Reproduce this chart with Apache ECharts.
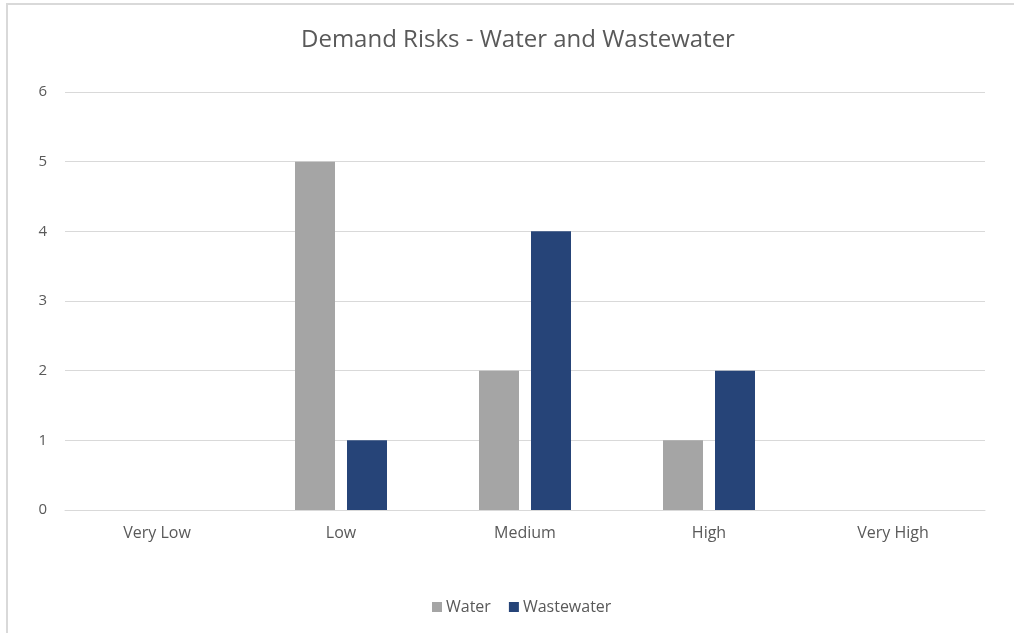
<!DOCTYPE html>
<html>
<head>
<meta charset="utf-8">
<script src="https://cdn.jsdelivr.net/npm/echarts@6/dist/echarts.min.js"></script>
<style>
  html, body { margin: 0; padding: 0; background: #fff; overflow: hidden; }
  #chart { width: 1014px; height: 633px; }
</style>
</head>
<body>
<div id="chart"></div>
<script>
// Risk level buckets and counts per service
const categories = ['Very Low', 'Low', 'Medium', 'High', 'Very High'];
const waterCounts = [0, 5, 2, 1, 0];
const wastewaterCounts = [0, 1, 4, 2, 0];
const titleText = 'Demand Risks - Water and Wastewater';

const FONT = '"Open Sans", "Noto Sans", sans-serif';
const TEXT = '#595959';
const GRID = '#d9d9d9';

const chart = echarts.init(document.getElementById('chart'));
chart.setOption({
  animation: false,
  backgroundColor: '#fff',
  textStyle: { fontFamily: FONT },
  title: {
    text: titleText,
    left: 296,
    top: 23,
    textStyle: { fontFamily: FONT, fontSize: 24, fontWeight: 'normal', color: TEXT }
  },
  graphic: [{
    type: 'rect',
    shape: { x: 7, y: 4, width: 1100, height: 700 },
    style: { fill: 'none', stroke: GRID, lineWidth: 2 },
    silent: true
  }],
  legend: {
    bottom: 13,
    left: 427,
    itemWidth: 10,
    itemHeight: 10,
    itemGap: 18,
    icon: 'rect',
    textStyle: { fontFamily: FONT, fontSize: 16, color: TEXT, padding: [0, 0, 0, -1] },
    data: ['Water', 'Wastewater']
  },
  grid: { left: 65, right: 29, top: 92, bottom: 123, containLabel: false },
  xAxis: {
    type: 'category',
    data: categories,
    axisLine: { lineStyle: { color: GRID, width: 1 } },
    axisTick: { show: false },
    axisLabel: { color: TEXT, fontSize: 16, margin: 15, fontFamily: FONT }
  },
  yAxis: {
    type: 'value',
    min: 0,
    max: 6,
    interval: 1,
    axisLine: { show: false },
    axisTick: { show: false },
    splitLine: { lineStyle: { color: GRID, width: 1 } },
    axisLabel: { color: TEXT, fontSize: 15, margin: 18, fontFamily: FONT }
  },
  series: [
    {
      name: 'Water',
      type: 'bar',
      data: waterCounts,
      barWidth: 40,
      barGap: '30%',
      itemStyle: { color: '#a5a5a5' }
    },
    {
      name: 'Wastewater',
      type: 'bar',
      data: wastewaterCounts,
      barWidth: 40,
      barGap: '30%',
      itemStyle: { color: '#264478' }
    }
  ]
});
</script>
</body>
</html>
